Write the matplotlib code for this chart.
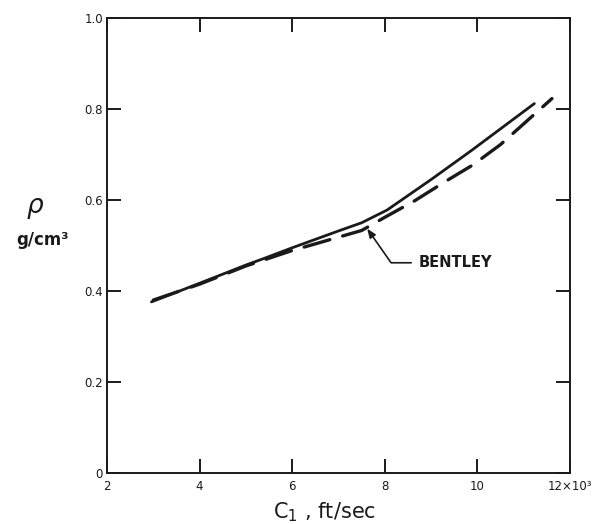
import matplotlib
matplotlib.use("Agg")
import matplotlib.pyplot as plt

# Density vs. longitudinal wave velocity (velocity in units of 10^3 ft/sec)
solid_velocity = [2.96, 4.0, 5.0, 5.43, 6.0, 7.0, 7.5, 8.05, 9.0, 9.86, 11.23]
solid_density = [0.376, 0.417, 0.457, 0.473, 0.495, 0.532, 0.550, 0.578, 0.645, 0.708, 0.812]

bentley_velocity = [3.0, 4.0, 5.0, 6.0, 6.65, 7.5, 8.0, 8.64, 9.28, 9.9, 10.5, 11.61]
bentley_density = [0.380, 0.415, 0.455, 0.489, 0.508, 0.533, 0.562, 0.598, 0.639, 0.677, 0.722, 0.823]

x_ticks = [2, 4, 6, 8, 10, 12]
x_tick_labels = ["2", "4", "6", "8", "10", "12×10³"]
y_ticks = [0, 0.2, 0.4, 0.6, 0.8, 1.0]
y_tick_labels = ["0", "0.2", "0.4", "0.6", "0.8", "1.0"]

ink = "#1a1a1a"

fig = plt.figure(figsize=(6.06, 5.24), dpi=100)
ax = fig.add_axes([0.1766, 0.0975, 0.7640, 0.8680])

ax.plot(solid_velocity, solid_density, color=ink, lw=2.0, solid_capstyle="round")
ax.plot(bentley_velocity, bentley_density, color=ink, lw=2.4,
        dashes=(8, 4), dash_capstyle="round")

ax.set_xlim(2, 12)
ax.set_ylim(0, 1.0)
ax.set_xticks(x_ticks)
ax.set_xticklabels(x_tick_labels)
ax.set_yticks(y_ticks)
ax.set_yticklabels(y_tick_labels)

for s in ax.spines.values():
    s.set_linewidth(1.4)
    s.set_color(ink)

ax.tick_params(direction="in", top=True, right=True, length=10, width=1.4,
               color=ink, labelsize=8.5, labelcolor=ink, pad=3)
ax.tick_params(axis="x", pad=5)

ax.annotate("BENTLEY", xy=(7.62, 0.537), xytext=(8.72, 0.462),
            fontsize=10.5, fontweight="bold", color=ink, va="center", ha="left",
            arrowprops=dict(arrowstyle="-|>,head_length=0.5,head_width=0.2",
                            color=ink, lw=1.2, shrinkA=3, shrinkB=0,
                            connectionstyle="angle,angleA=0,angleB=-55,rad=0"))

fig.text(0.058, 0.607, "ρ", fontsize=19, style="italic", color=ink,
         ha="center", va="center")
fig.text(0.070, 0.542, "g/cm³", fontsize=12, fontweight="bold", color=ink,
         ha="center", va="center")
fig.text(0.535, 0.022, "C$_\\mathregular{1}$ , ft/sec", fontsize=15, color=ink,
         ha="center", va="center")

fig.savefig("out.png", dpi=100, facecolor="white")
